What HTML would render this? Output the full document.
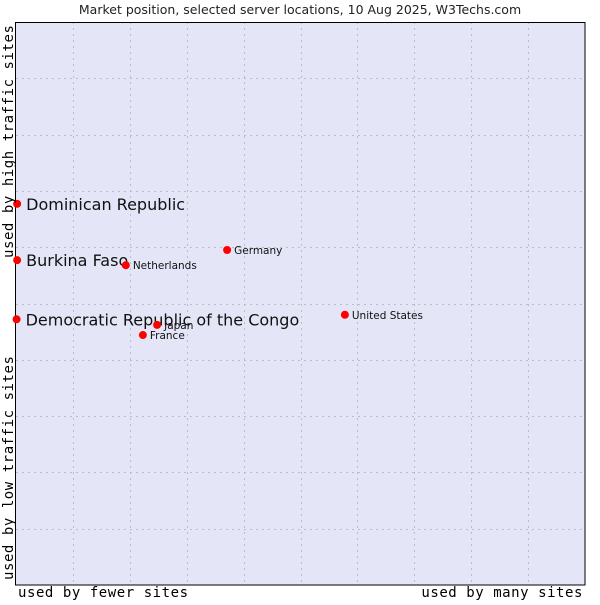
<!DOCTYPE html>
<html><head><meta charset="utf-8"><style>
body{margin:0;background:#fff;}
svg text{font-family:"DejaVu Sans",sans-serif;}
.mono{font-family:"DejaVu Sans Mono","Liberation Mono",monospace;letter-spacing:0.55px;}
</style></head><body>
<svg id="c" width="600" height="600">
<text x="300" y="14" text-anchor="middle" font-size="12.5" fill="#222">Market position, selected server locations, 10 Aug 2025, W3Techs.com</text>
<rect x="15.5" y="22.5" width="569.5" height="562.5" fill="#e4e6f8"/>
<g id="grid"></g>
<rect x="15.5" y="22.5" width="569.5" height="562.5" fill="none" stroke="#000"/>
<g id="pts"></g>
<text class="mono" x="18" y="597" font-size="14" fill="#000">used by fewer sites</text>
<text class="mono" x="583" y="597" font-size="14" text-anchor="end" fill="#000">used by many sites</text>
<text class="mono" transform="translate(13,580) rotate(-90)" font-size="14" fill="#000">used by low traffic sites</text>
<text class="mono" transform="translate(13,258) rotate(-90)" font-size="14" fill="#000">used by high traffic sites</text>
</svg>
<script>
const names=["Dominican Republic","Burkina Faso","Democratic Republic of the Congo","Netherlands","Germany","United States","Japan","France"];
const xs=[0.2,0.2,0.1,19.3,37.1,57.8,24.8,22.3];
const ys=[67.7,57.7,47.2,56.8,59.5,48.0,46.2,44.4];
const big=[true,true,true,false,false,false,false,false];
const L=16,R=585,T=22,B=585;
const sx=v=>L+v/100*(R-L), sy=v=>B-v/100*(B-T);
const NS="http://www.w3.org/2000/svg";
const g=document.getElementById('grid');
for(let i=1;i<10;i++){
 let l=document.createElementNS(NS,'line');
 
 
 const x=Math.round(sx(i*10))+0.5;
 l.setAttribute('x1',x);l.setAttribute('x2',x);l.setAttribute('y1',T);l.setAttribute('y2',B);
 l.setAttribute('stroke','#bdbdc4');l.setAttribute('stroke-dasharray','2,4');g.appendChild(l);
 let h=document.createElementNS(NS,'line');
 
 
 const y=Math.round(sy(i*10))+0.5;
 h.setAttribute('x1',L);h.setAttribute('x2',R);h.setAttribute('y1',y);h.setAttribute('y2',y);
 h.setAttribute('stroke','#bdbdc4');h.setAttribute('stroke-dasharray','2,4');g.appendChild(h);
}
const p=document.getElementById('pts');
names.forEach((n,i)=>{
 const x=sx(xs[i]),y=sy(ys[i]);
 let c=document.createElementNS(NS,'circle');
 
 
 c.setAttribute('cx',x);c.setAttribute('cy',y);c.setAttribute('r',4);c.setAttribute('fill','#f00');p.appendChild(c);
 let t=document.createElementNS(NS,'text');
 
 
 t.setAttribute('x',x+(big[i]?9:7));t.setAttribute('y',y+(big[i]?6:4));
 t.setAttribute('font-size',big[i]?16:10.5);t.setAttribute('fill','#111');t.textContent=n;p.appendChild(t);
});
</script>
</body></html>
